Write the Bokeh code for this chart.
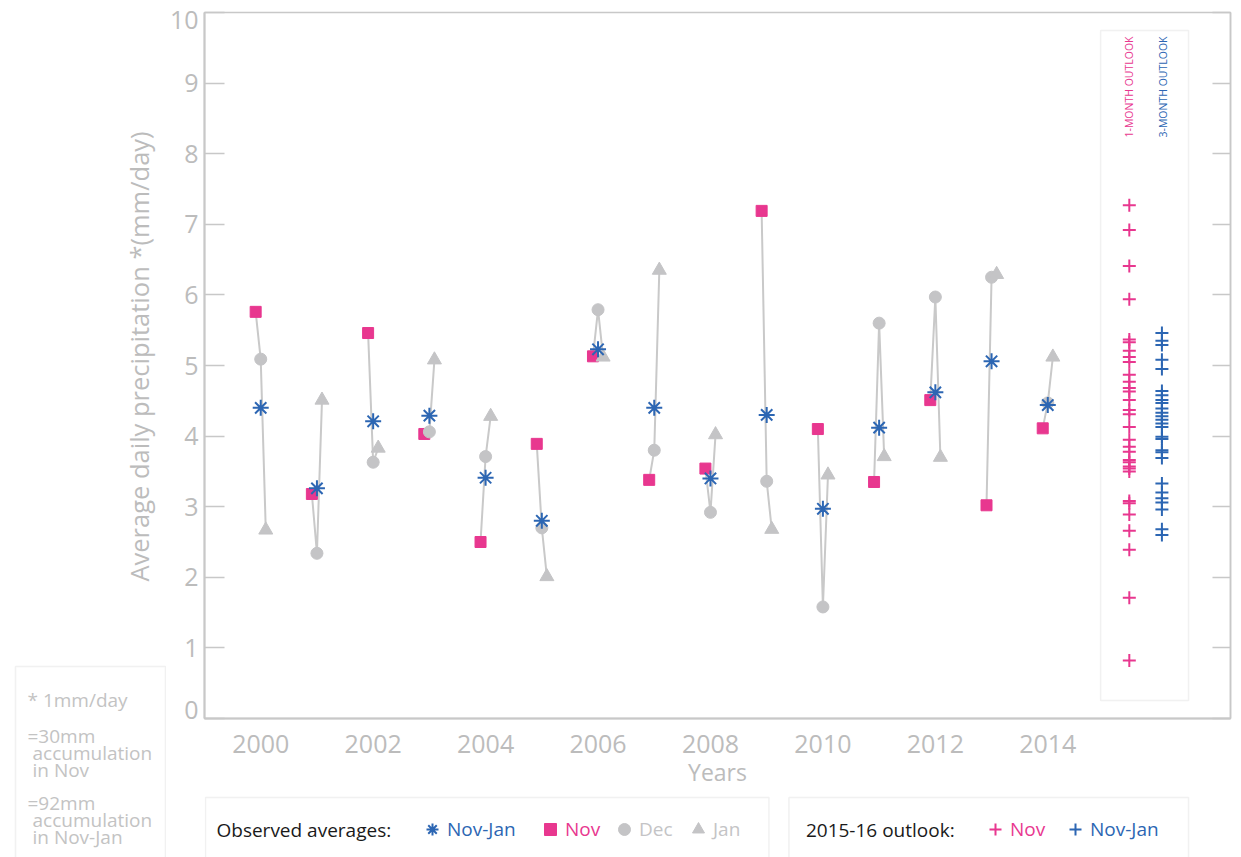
import numpy as np
from bokeh.plotting import figure
from bokeh.layouts import row, column
from bokeh.models import (ColumnDataSource, FixedTicker, LinearAxis, Range1d,
                          Label, BoxAnnotation, Legend, LegendItem)
from bokeh.embed import file_html
from bokeh.resources import INLINE

# ---------------- data ----------------
years = list(range(2000, 2015))
nov = [5.76, 3.18, 5.46, 4.03, 2.50, 3.89, 5.13, 3.38, 3.54, 7.19, 4.10, 3.35, 4.51, 3.02, 4.11]
dec = [5.09, 2.34, 3.63, 4.06, 3.71, 2.70, 5.79, 3.80, 2.92, 3.36, 1.58, 5.60, 5.97, 6.25, 4.47]
jan = [2.67, 4.51, 3.83, 5.08, 4.28, 2.01, 5.12, 6.35, 4.02, 2.68, 3.45, 3.71, 3.70, 6.29, 5.12]
nov_jan = [4.40, 3.26, 4.21, 4.29, 3.41, 2.80, 5.23, 4.40, 3.40, 4.30, 2.97, 4.12, 4.62, 5.06, 4.44]

outlook_nov = [7.27, 6.92, 6.41, 5.94, 5.37, 5.33, 5.21, 5.12, 5.05, 4.87, 4.77, 4.68, 4.63,
               4.51, 4.37, 4.31, 4.13, 3.95, 3.85, 3.78, 3.66, 3.63, 3.57, 3.54, 3.50,
               3.08, 3.05, 2.89, 2.66, 2.39, 1.71, 0.82]
outlook_nov_jan = [5.46, 5.35, 5.29, 5.08, 4.95, 4.64, 4.58, 4.51, 4.47, 4.39, 4.33, 4.28,
                   4.23, 4.18, 4.13, 3.99, 3.96, 3.80, 3.77, 3.69, 3.33, 3.20, 3.12, 3.06,
                   2.96, 2.68, 2.60]

x_ticks = [2000, 2002, 2004, 2006, 2008, 2010, 2012, 2014]
y_ticks = list(range(0, 11))

# ---------------- style ----------------
PINK = "#e8378f"
BLUE = "#2c66b3"
GRAY = "#c4c4c6"
LINE = "#c9c9c9"
AX = "#c8c8c8"
TXT = "#bcbcbc"
NOTE = "#c3c3c3"
BOXC = "#d2d2d2"
FONT = "Open Sans"

PW, PH = 1241, 857          # page
LW = 166                    # left strip width
MH = 790                    # main figure height
XL, XR = 1999.0, 2017.25
FL, FR, FT, FB = 203, 1230, 12, 719   # frame edges in page pixels
OFF = 0.09
OUT_NOV_X = 2015.45
OUT_NOVJAN_X = 2016.03
# end labels of the y axis are nudged inwards, as in the original
LABEL_NUDGE = {0: 0.12, 10: -0.11}


def X(px):
    return XL + (px - FL) * (XR - XL) / (FR - FL)


def Y(py):
    return (FB - py) * 10.0 / (FB - FT)


# ================= main figure =================
p = figure(width=PW - LW, height=MH, x_range=Range1d(XL, XR), y_range=Range1d(0, 10),
           output_backend="svg", toolbar_location=None,
           min_border_left=FL - LW, min_border_top=FT,
           min_border_right=PW - FR, min_border_bottom=MH - FB)
p.outline_line_color = AX
p.outline_line_width = 1.5
p.grid.visible = False

xa = p.xaxis[0]
xa.ticker = FixedTicker(ticks=x_ticks)
xa.major_tick_in = 0
xa.major_tick_out = 0
xa.minor_tick_line_color = None
xa.axis_line_color = AX
xa.axis_line_width = 2
xa.major_label_text_font = FONT
xa.major_label_text_font_size = "25px"
xa.major_label_text_color = TXT
xa.major_label_standoff = 16
xa.axis_label = "Years"
xa.axis_label_text_font = FONT
xa.axis_label_text_font_size = "23px"
xa.axis_label_text_font_style = "normal"
xa.axis_label_text_color = TXT
xa.axis_label_standoff = 0

# tick marks / axis line (labels drawn by the second axis)
ya = p.yaxis[0]
ya.ticker = FixedTicker(ticks=y_ticks)
ya.major_tick_in = 20
ya.major_tick_out = 0
ya.major_tick_line_color = AX
ya.major_tick_line_width = 1.5
ya.minor_tick_line_color = None
ya.axis_line_color = AX
ya.axis_line_width = 2
ya.major_label_text_font_size = "1px"
ya.major_label_text_color = None
ya.major_label_standoff = 0

label_pos = [t + LABEL_NUDGE.get(t, 0) for t in y_ticks]
ya2 = LinearAxis(ticker=FixedTicker(ticks=label_pos),
                 major_label_overrides={pos: str(t) for t, pos in zip(y_ticks, label_pos)},
                 axis_line_color=None, major_tick_line_color=None, minor_tick_line_color=None,
                 major_tick_in=0, major_tick_out=0, major_label_standoff=6,
                 major_label_text_font=FONT, major_label_text_font_size="25px",
                 major_label_text_color=TXT)
p.add_layout(ya2, "left")

ra = LinearAxis(ticker=FixedTicker(ticks=y_ticks), major_tick_in=18, major_tick_out=0,
                major_tick_line_color=AX, major_tick_line_width=1.5,
                minor_tick_line_color=None, axis_line_color=AX, axis_line_width=1.5,
                major_label_text_font_size="1px", major_label_text_color=None,
                major_label_standoff=0)
p.add_layout(ra, "right")

src = ColumnDataSource(dict(
    year=years, nov=nov, dec=dec, jan=jan, nov_jan=nov_jan,
    x_nov=[y - OFF for y in years], x_jan=[y + OFF for y in years],
    xs=[[y - OFF, y, y + OFF] for y in years],
    ys=[[a, b, c] for a, b, c in zip(nov, dec, jan)],
))

p.multi_line(xs="xs", ys="ys", source=src, line_color=LINE, line_width=2)
p.scatter(x="x_nov", y="nov", source=src, marker="square", size=11,
          fill_color=PINK, line_color=PINK)
p.scatter(x="year", y="dec", source=src, marker="circle", size=12,
          fill_color=GRAY, line_color=GRAY)
p.scatter(x="x_jan", y="jan", source=src, marker="triangle", size=14,
          fill_color=GRAY, line_color=GRAY)
p.scatter(x="year", y="nov_jan", source=src, marker="asterisk", size=16,
          line_color=BLUE, line_width=2)

src_on = ColumnDataSource(dict(x=[OUT_NOV_X] * len(outlook_nov), y=outlook_nov))
src_onj = ColumnDataSource(dict(x=[OUT_NOVJAN_X] * len(outlook_nov_jan), y=outlook_nov_jan))
p.scatter(x="x", y="y", source=src_on, marker="cross", size=13, line_color=PINK, line_width=2)
p.scatter(x="x", y="y", source=src_onj, marker="cross", size=13, line_color=BLUE, line_width=2)

p.add_layout(BoxAnnotation(left=X(1100), right=X(1188), top=Y(30), bottom=Y(701),
                           fill_alpha=0, fill_color=None, line_color=BOXC, line_width=1.5))
for txt, px, col in [("1-MONTH OUTLOOK", 1128, PINK), ("3-MONTH OUTLOOK", 1162, BLUE)]:
    p.add_layout(Label(x=X(px), y=Y(36), text=txt, text_color=col, text_font=FONT,
                       text_font_size="10.5px", text_align="right", text_baseline="middle",
                       angle=np.pi / 2))


# ================= helpers for pixel-space strips =================
def strip(width, height, x0, x1, y0, y1, mbl=0, mbr=0):
    f = figure(width=width, height=height,
               x_range=Range1d(x0, x1), y_range=Range1d(y1, y0),
               output_backend="svg", toolbar_location=None, min_border=0,
               min_border_left=mbl, min_border_right=mbr,
               x_axis_location=None, y_axis_location=None)
    f.outline_line_color = None
    f.grid.visible = False
    return f


def box(f, l, r, t, b):
    f.add_layout(BoxAnnotation(left=l, right=r, top=t, bottom=b, fill_alpha=0,
                               fill_color=None, line_color=BOXC, line_width=1.5))


def label(f, text, x, y, color, size, align="left", angle=0.0):
    f.add_layout(Label(x=x, y=y, text=text, text_color=color, text_font=FONT,
                       text_font_size=size, text_align=align, text_baseline="middle",
                       angle=angle))


# ================= left strip: y title + note =================
left = strip(LW, PH, 0, LW, 0, PH)
label(left, "Average daily precipitation *(mm/day)", 138, 356, TXT, "25.5px",
      align="center", angle=np.pi / 2)
box(left, 15, 165, 666, 900)
label(left, "* 1mm/day", 27, 699, NOTE, "19px")
label(left, "=30mm", 27, 735, NOTE, "19px")
label(left, "accumulation", 32, 752, NOTE, "19px")
label(left, "in Nov", 32, 769, NOTE, "19px")
label(left, "=92mm", 27, 802, NOTE, "19px")
label(left, "accumulation", 32, 819, NOTE, "19px")
label(left, "in Nov-Jan", 32, 836, NOTE, "19px")

# ================= bottom strip: legends =================
LH = PH - MH
bot = strip(PW - LW, LH, FL, FR, MH, PH, mbl=FL - LW, mbr=PW - FR)
box(bot, 204, 768, 797, 900)
box(bot, 788, 1188, 797, 900)
label(bot, "Observed averages:", 215, 829, "#1a1a1a", "19px")
label(bot, "2015-16 outlook:", 805, 829, "#1a1a1a", "19px")

nan = dict(x=[np.nan], y=[np.nan])
k_nj = bot.scatter(x="x", y="y", source=ColumnDataSource(nan), marker="asterisk", size=16,
                   line_color=BLUE, line_width=2)
k_nov = bot.scatter(x="x", y="y", source=ColumnDataSource(nan), marker="square", size=11,
                    fill_color=PINK, line_color=PINK)
k_dec = bot.scatter(x="x", y="y", source=ColumnDataSource(nan), marker="circle", size=12,
                    fill_color=GRAY, line_color=GRAY)
k_jan = bot.scatter(x="x", y="y", source=ColumnDataSource(nan), marker="triangle", size=14,
                    fill_color=GRAY, line_color=GRAY)
k_on = bot.scatter(x="x", y="y", source=ColumnDataSource(nan), marker="cross", size=13,
                   line_color=PINK, line_width=2)
k_onj = bot.scatter(x="x", y="y", source=ColumnDataSource(nan), marker="cross", size=13,
                    line_color=BLUE, line_width=2)

GW, GH = 30, 34


def legend(text, renderer, color, cx, cy):
    leg = Legend(items=[LegendItem(label=text, renderers=[renderer])],
                 location=(cx - GW / 2 - FL, (PH - cy) - GH / 2),
                 orientation="horizontal", border_line_color=None,
                 background_fill_alpha=0, padding=0, margin=0, spacing=0,
                 glyph_width=GW, glyph_height=GH, label_standoff=0,
                 label_text_font=FONT, label_text_font_size="19px",
                 label_text_color=color, label_height=GH)
    bot.add_layout(leg)


legend("Nov-Jan", k_nj, BLUE, 431, 829)
legend("Nov", k_nov, PINK, 549, 829)
legend("Dec", k_dec, GRAY, 623, 829)
legend("Jan", k_jan, GRAY, 697, 829)
legend("Nov", k_on, PINK, 994, 829)
legend("Nov-Jan", k_onj, BLUE, 1074, 829)

layout = row(left, column(p, bot, spacing=0), spacing=0)
open("out.html", "w").write(file_html(layout, INLINE))
